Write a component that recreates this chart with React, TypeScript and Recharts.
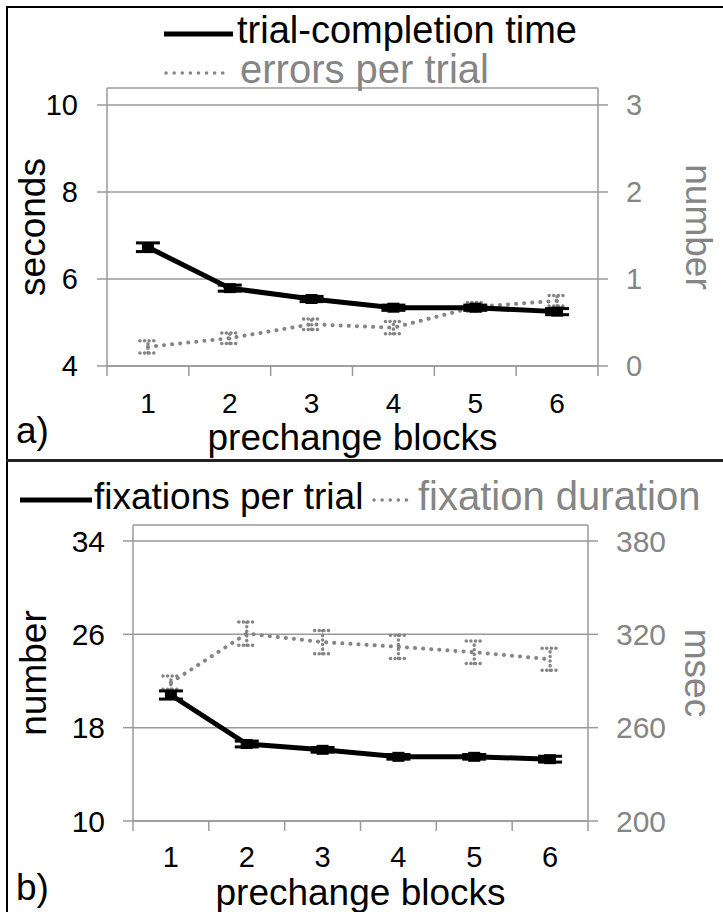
import { ComposedChart, Line, XAxis, YAxis, CartesianGrid, ErrorBar, ReferenceLine, Label } from "recharts"

const FONT = '"Liberation Sans", Arial, Helvetica, sans-serif'
const GRID = "#9a9a9a"
const GRAY = "#858585"

// prechange blocks
const blocks = [1, 2, 3, 4, 5, 6]
const blockEdges = [0.5, 1.5, 2.5, 3.5, 4.5, 5.5, 6.5]

// panel a
const trialTime = [6.73, 5.79, 5.54, 5.34, 5.34, 5.25]
const trialTimeErr = [0.1, 0.07, 0.06, 0.06, 0.06, 0.07]
const errorsPerTrial = [0.22, 0.32, 0.48, 0.44, 0.68, 0.75]
const errorsPerTrialErr = [0.07, 0.06, 0.06, 0.07, 0.05, 0.06]
const secondsTicks = [4, 6, 8, 10]
const numberTicks = [0, 1, 2, 3]

// panel b
const fixations = [20.8, 16.6, 16.1, 15.5, 15.5, 15.3]
const fixationsErr = [0.35, 0.25, 0.2, 0.2, 0.2, 0.25]
const fixDuration = [289, 320.5, 315, 312, 308.5, 304]
const fixDurationErr = [4.3, 7.5, 7.5, 7.5, 7.3, 7.1]
const fixTicks = [10, 18, 26, 34]
const msecTicks = [200, 260, 320, 380]

const topData = blocks.map((b, i) => ({
  block: b,
  time: trialTime[i],
  timeErr: trialTimeErr[i],
  errors: errorsPerTrial[i],
  errorsErr: errorsPerTrialErr[i],
}))

const bottomData = blocks.map((b, i) => ({
  block: b,
  fix: fixations[i],
  fixErr: fixationsErr[i],
  dur: fixDuration[i],
  durErr: fixDurationErr[i],
}))

const SquareDot = (props: any) => {
  const { cx, cy } = props
  if (cx == null || cy == null) return null
  return <rect x={cx - 6} y={cy - 5} width={12} height={10} fill="#000" />
}

const App = () => {
  return (
    <div style={{ position: "absolute", left: 0, top: 0, width: 723, height: 912, background: "#fff", overflow: "hidden", fontFamily: FONT }}>
      {/* panel a */}
      <div style={{ position: "absolute", left: 0, top: 0 }}>
        <ComposedChart width={723} height={460} data={topData} margin={{ top: 88, right: 0, bottom: 0, left: 0 }}>
          <CartesianGrid yAxisId="left" vertical={false} stroke={GRID} strokeWidth={1.5} />
          <XAxis
            dataKey="block"
            type="number"
            domain={[0.5, 6.5]}
            ticks={blocks}
            height={94}
            tickLine={false}
            axisLine={{ stroke: GRID, strokeWidth: 1.5 }}
            tickMargin={21}
            tick={{ fontSize: 28, fill: "#000", fontFamily: FONT }}
          >
            <Label value="prechange blocks" position="insideBottom" offset={10} style={{ fontSize: 37, fill: "#000", fontFamily: FONT }} />
          </XAxis>
          <YAxis
            yAxisId="left"
            width={107}
            domain={[4, 10.391]}
            ticks={secondsTicks}
            tickSize={10}
            tickMargin={19}
            tickLine={{ stroke: GRID, strokeWidth: 1.5 }}
            axisLine={{ stroke: GRID, strokeWidth: 1.5 }}
            tick={{ fontSize: 29, fill: "#000", fontFamily: FONT }}
          >
            <Label value="seconds" angle={-90} position="insideLeft" offset={32} style={{ fontSize: 37, fill: "#000", fontFamily: FONT, textAnchor: "middle" }} />
          </YAxis>
          <YAxis
            yAxisId="right"
            orientation="right"
            width={125}
            domain={[0, 3.195]}
            ticks={numberTicks}
            tickSize={10}
            tickMargin={18}
            tickLine={{ stroke: GRID, strokeWidth: 1.5 }}
            axisLine={{ stroke: GRID, strokeWidth: 1.5 }}
            tick={{ fontSize: 29, fill: GRAY, fontFamily: FONT }}
          >
            <Label value="number" angle={90} position="insideRight" offset={24} style={{ fontSize: 37, fill: GRAY, fontFamily: FONT, textAnchor: "middle" }} />
          </YAxis>
          {blockEdges.map((e) => (
            <ReferenceLine
              key={`ea-${e}`}
              yAxisId="left"
              ifOverflow="visible"
              segment={[{ x: e, y: 4 }, { x: e, y: 3.77 }]}
              stroke={GRID}
              strokeWidth={1.5}
            />
          ))}
          <Line
            yAxisId="right"
            dataKey="errors"
            stroke={GRAY}
            strokeWidth={4}
            strokeDasharray="0.1 8"
            strokeLinecap="round"
            dot={false}
            isAnimationActive={false}
          >
            <ErrorBar dataKey="errorsErr" width={8} stroke={GRAY} strokeWidth={3.5} strokeDasharray="0.1 4.5" strokeLinecap="round" direction="y" />
          </Line>
          <Line
            yAxisId="left"
            dataKey="time"
            stroke="#000"
            strokeWidth={5}
            dot={<SquareDot />}
            activeDot={false}
            isAnimationActive={false}
          >
            <ErrorBar dataKey="timeErr" width={12} stroke="#000" strokeWidth={3} direction="y" />
          </Line>
        </ComposedChart>
      </div>

      {/* panel b */}
      <div style={{ position: "absolute", left: 0, top: 460 }}>
        <ComposedChart width={723} height={452} data={bottomData} margin={{ top: 65, right: 0, bottom: 0, left: 0 }}>
          <CartesianGrid yAxisId="left" vertical={false} stroke={GRID} strokeWidth={1.5} />
          <XAxis
            dataKey="block"
            type="number"
            domain={[0.5, 6.5]}
            ticks={blocks}
            height={91}
            tickLine={false}
            axisLine={{ stroke: GRID, strokeWidth: 1.5 }}
            tickMargin={19}
            tick={{ fontSize: 29, fill: "#000", fontFamily: FONT }}
          >
            <Label value="prechange blocks" position="insideBottom" offset={7} style={{ fontSize: 37, fill: "#000", fontFamily: FONT }} />
          </XAxis>
          <YAxis
            yAxisId="left"
            width={133}
            domain={[10, 35.37]}
            ticks={fixTicks}
            tickSize={10}
            tickMargin={18}
            tickLine={{ stroke: GRID, strokeWidth: 1.5 }}
            axisLine={{ stroke: GRID, strokeWidth: 1.5 }}
            tick={{ fontSize: 30, fill: "#000", fontFamily: FONT }}
          >
            <Label value="number" angle={-90} position="insideLeft" offset={33} style={{ fontSize: 37, fill: "#000", fontFamily: FONT, textAnchor: "middle" }} />
          </YAxis>
          <YAxis
            yAxisId="right"
            orientation="right"
            width={135}
            domain={[200, 390.3]}
            ticks={msecTicks}
            tickSize={10}
            tickMargin={18}
            tickLine={{ stroke: GRID, strokeWidth: 1.5 }}
            axisLine={{ stroke: GRID, strokeWidth: 1.5 }}
            tick={{ fontSize: 30, fill: GRAY, fontFamily: FONT }}
          >
            <Label value="msec" angle={90} position="insideRight" offset={25} style={{ fontSize: 37, fill: GRAY, fontFamily: FONT, textAnchor: "middle" }} />
          </YAxis>
          {blockEdges.map((e) => (
            <ReferenceLine
              key={`eb-${e}`}
              yAxisId="left"
              ifOverflow="visible"
              segment={[{ x: e, y: 10 }, { x: e, y: 9.15 }]}
              stroke={GRID}
              strokeWidth={1.5}
            />
          ))}
          <Line
            yAxisId="right"
            dataKey="dur"
            stroke={GRAY}
            strokeWidth={4}
            strokeDasharray="0.1 8"
            strokeLinecap="round"
            dot={false}
            isAnimationActive={false}
          >
            <ErrorBar dataKey="durErr" width={8} stroke={GRAY} strokeWidth={3.5} strokeDasharray="0.1 4.5" strokeLinecap="round" direction="y" />
          </Line>
          <Line
            yAxisId="left"
            dataKey="fix"
            stroke="#000"
            strokeWidth={5}
            dot={<SquareDot />}
            activeDot={false}
            isAnimationActive={false}
          >
            <ErrorBar dataKey="fixErr" width={12} stroke="#000" strokeWidth={3} direction="y" />
          </Line>
        </ComposedChart>
      </div>

      {/* frame */}
      <div style={{ position: "absolute", left: 6, top: 6, width: 2, height: 906, background: "#000" }} />
      <div style={{ position: "absolute", left: 6, top: 6, width: 717, height: 2, background: "#000" }} />
      <div style={{ position: "absolute", left: 6, top: 459, width: 717, height: 3, background: "#222" }} />

      {/* legends and panel letters */}
      <svg width={723} height={912} style={{ position: "absolute", left: 0, top: 0, pointerEvents: "none" }} fontFamily={FONT}>
        <line x1={164} x2={233} y1={34} y2={34} stroke="#000" strokeWidth={5} />
        <text x={237} y={43} fontSize={38} fill="#000">trial-completion time</text>
        <line x1={166} x2={228} y1={73} y2={73} stroke={GRAY} strokeWidth={3.5} strokeDasharray="0.1 8" strokeLinecap="round" />
        <text x={240} y={83} fontSize={40} fill={GRAY}>errors per trial</text>
        <text x={16} y={443} fontSize={37} fill="#000">a)</text>

        <line x1={20} x2={92} y1={500} y2={500} stroke="#000" strokeWidth={5} />
        <text x={94} y={509} fontSize={37} fill="#000">fixations per trial</text>
        <line x1={374} x2={412} y1={500} y2={500} stroke={GRAY} strokeWidth={3.5} strokeDasharray="0.1 8" strokeLinecap="round" />
        <text x={418} y={510} fontSize={40} fill={GRAY}>fixation duration</text>
        <text x={16} y={900} fontSize={37} fill="#000">b)</text>
      </svg>
    </div>
  )
}

export default App
